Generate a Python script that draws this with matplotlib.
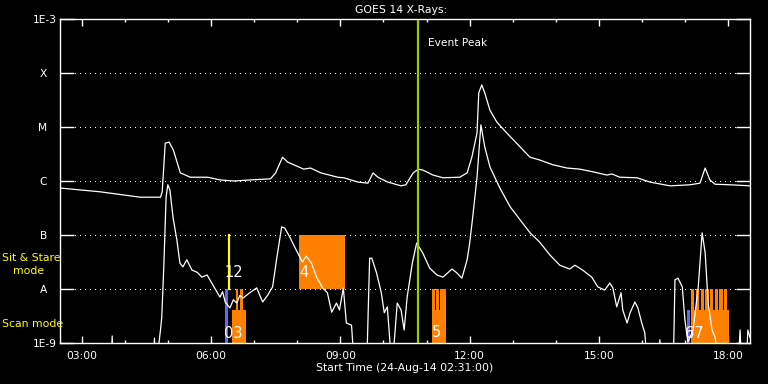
import numpy as np
import matplotlib.pyplot as plt
from matplotlib.ticker import FixedLocator, MultipleLocator, NullLocator
from matplotlib.transforms import ScaledTranslation

# GOES 14 long channel (1-8 A): hours since 00:00, log10 flux
long_t = [2.50, 3.43, 4.36, 4.83, 4.87, 4.94, 5.03, 5.13, 5.29, 5.41, 5.52, 5.92,
          6.22, 6.52, 6.92, 7.38, 7.50, 7.66, 7.78, 8.15, 8.31, 8.55, 8.94, 9.08,
          9.41, 9.64, 9.76, 9.87, 10.10, 10.41, 10.52, 10.69, 10.81, 10.92, 11.15,
          11.38, 11.77, 11.94, 12.05, 12.17, 12.21, 12.28, 12.35, 12.47, 12.63,
          12.86, 13.17, 13.40, 13.62, 13.93, 14.26, 14.55, 14.86, 15.18, 15.30,
          15.48, 15.88, 16.18, 16.65, 17.11, 17.34, 17.46, 17.57, 17.69, 18.04, 18.50]
long_lg = [-6.13, -6.20, -6.30, -6.30, -6.20, -5.30, -5.28, -5.43, -5.85, -5.89, -5.93, -5.93,
           -5.98, -6.00, -5.98, -5.96, -5.85, -5.56, -5.65, -5.78, -5.76, -5.85, -5.93, -5.94,
           -6.02, -6.04, -5.85, -5.93, -6.02, -6.09, -6.07, -5.85, -5.78, -5.80, -5.89,
           -5.94, -5.93, -5.85, -5.56, -5.11, -4.37, -4.22, -4.37, -4.69, -4.91,
           -5.11, -5.37, -5.56, -5.61, -5.70, -5.76, -5.78, -5.83, -5.89, -5.87,
           -5.93, -5.94, -6.02, -6.09, -6.07, -6.04, -5.76, -5.98, -6.06, -6.07, -6.09]

# short channel (0.5-4 A)
short_t = [2.50, 3.68, 3.71, 3.74, 4.66, 4.69, 4.72, 4.83, 4.86, 4.91, 4.96, 5.00, 5.05,
           5.12, 5.21, 5.28, 5.35, 5.44, 5.56, 5.68, 5.79, 5.91, 6.05, 6.21, 6.27, 6.33, 6.44,
           6.52, 6.60, 6.67, 6.74, 6.90, 7.06, 7.20, 7.32, 7.43, 7.53, 7.64, 7.71, 7.83, 7.94, 8.12,
           8.21, 8.33, 8.45, 8.59, 8.70, 8.80, 8.91, 8.98, 9.07, 9.14, 9.26, 9.33, 9.61,
           9.68, 9.73, 9.84, 9.95, 10.02, 10.09, 10.20, 10.32, 10.41, 10.48, 10.55, 10.67,
           10.77, 10.91, 11.07, 11.24, 11.38, 11.59, 11.70, 11.82, 11.94, 12.00, 12.07,
           12.17, 12.26, 12.35, 12.47, 12.70, 12.94, 13.17, 13.40, 13.62, 13.86, 14.09,
           14.32, 14.44, 14.62, 14.83, 14.97, 15.13, 15.25, 15.32, 15.41, 15.51, 15.55,
           15.65, 15.72, 15.83, 15.90, 15.99, 16.06, 16.13, 16.37, 16.41, 16.45, 16.72,
           16.76, 16.83, 16.93, 16.99, 17.06, 17.18, 17.30, 17.39, 17.46, 17.53, 17.62,
           17.69, 17.81, 18.22, 18.27, 18.31, 18.41, 18.45, 18.50]
short_lg = [-9.5, -9.5, -8.87, -9.5, -9.5, -8.91, -9.5, -8.76, -8.52, -7.52, -6.30, -6.07, -6.17,
            -6.67, -7.09, -7.52, -7.59, -7.46, -7.65, -7.69, -7.78, -7.74, -7.93, -8.15, -8.05, -8.24, -8.35,
            -8.20, -8.26, -8.12, -8.17, -8.07, -7.98, -8.24, -8.11, -7.96, -7.41, -6.85, -6.87, -7.04, -7.22, -7.50,
            -7.39, -7.52, -7.78, -7.98, -8.07, -8.43, -8.26, -8.39, -7.98, -8.63, -8.67, -9.5, -9.5,
            -7.43, -7.43, -7.70, -8.07, -8.44, -8.33, -9.5, -8.26, -8.39, -8.76, -8.15, -7.52,
            -7.15, -7.33, -7.61, -7.74, -7.78, -7.63, -7.70, -7.80, -7.46, -7.15, -6.67,
            -5.93, -4.96, -5.37, -5.74, -6.13, -6.48, -6.72, -6.96, -7.13, -7.37, -7.56,
            -7.63, -7.56, -7.65, -7.78, -7.96, -8.02, -7.89, -7.98, -8.33, -8.07, -8.39,
            -8.63, -8.44, -8.24, -8.35, -8.63, -8.81, -9.5, -9.5, -8.94, -9.5, -9.5,
            -7.83, -7.80, -7.96, -8.57, -8.98, -8.76, -7.96, -6.96, -7.33, -8.26, -8.76,
            -8.89, -9.5, -9.5, -8.76, -9.5, -9.5, -8.76, -8.90]

flux_ticks = [1e-9, 1e-8, 1e-7, 1e-6, 1e-5, 1e-4, 1e-3]
flux_labels = ['1E-9', 'A', 'B', 'C', 'M', 'X', '1E-3']
hour_ticks = [3, 6, 9, 12, 15, 18]
hour_labels = ['03:00', '06:00', '09:00', '12:00', '15:00', '18:00']

event_peak = 10.80

# scan mode rasters (reach level A) and shorter base blocks
scan_t0 = [6.574, 6.674, 11.126, 11.226, 11.318, 17.125, 17.247, 17.357, 17.464, 17.572, 17.681, 17.788, 17.897]
scan_t1 = [6.633, 6.750, 11.196, 11.295, 11.451, 17.208, 17.324, 17.433, 17.541, 17.649, 17.758, 17.866, 17.959]
base_t0 = [6.488, 11.126, 17.125]
base_t1 = [6.813, 11.451, 18.013]
base_top = 10 ** -8.39
# sit & stare block
stare_t0, stare_t1 = 8.042, 9.109
stare_line = 6.419
# other observations (blue)
blue_t0 = [6.333, 17.032]
blue_t1 = [6.407, 17.109]
blue_top = [1e-8, 10 ** -8.39]

# observation numbers
num_text = ['12', '03', '4', '5', '67']
num_t = [6.53, 6.52, 8.16, 11.24, 17.20]
num_lg = [-7.69, -8.82, -7.69, -8.80, -8.82]

orange = '#ff8000'

fig = plt.figure(figsize=(7.68, 3.84), dpi=100, facecolor='black')
ax = fig.add_axes([60 / 768, 41 / 384, 690 / 768, 324 / 384], facecolor='black')
ax.set_yscale('log')
ax.set_xlim(2.5, 18.5)
ax.set_ylim(1e-9, 1e-3)

# grid
for v in flux_ticks[1:-1]:
    ax.axhline(v, color='white', lw=0.72, dashes=(1, 5), antialiased=False, zorder=1)

# observation blocks
for a, b in zip(base_t0, base_t1):
    ax.fill_between([a, b], 1e-9, base_top, color=orange, lw=0, zorder=2)
for a, b in zip(scan_t0, scan_t1):
    ax.fill_between([a, b], 1e-9, 1e-8, color=orange, lw=0, zorder=2)
ax.fill_between([stare_t0, stare_t1], 1e-8, 1e-7, color=orange, lw=0, zorder=2)
for a, b, top in zip(blue_t0, blue_t1, blue_top):
    ax.fill_between([a, b], 1e-9, top, color='#6464ff', lw=0, zorder=2)
ax.plot([stare_line, stare_line], [1e-8, 1e-7], color='yellow', lw=1.6, zorder=2)

# light curves
ax.plot(long_t, 10 ** np.array(long_lg), color='white', lw=0.9, zorder=3)
ax.plot(short_t, 10 ** np.array(short_lg), color='white', lw=0.9, zorder=3)

ax.axvline(event_peak, color='#99cc00', lw=1.6, zorder=4)
ax.text(11.03, 10 ** -3.44, 'Event Peak', color='white', fontsize=7.7, va='center', ha='left')

for s, t, lg in zip(num_text, num_t, num_lg):
    ax.text(t, 10 ** lg, s, color='white', fontsize=10.5, ha='center', va='center', zorder=5)

# axes styling
for sp in ax.spines.values():
    sp.set_color('white')
    sp.set_linewidth(1.0)
    sp.set_zorder(6)

ax.yaxis.set_major_locator(FixedLocator(flux_ticks))
ax.yaxis.set_minor_locator(NullLocator())
ax.set_yticklabels(flux_labels)
ax.xaxis.set_major_locator(FixedLocator(hour_ticks))
ax.xaxis.set_minor_locator(MultipleLocator(1))
ax.set_xticklabels(hour_labels)

ax.tick_params(axis='both', which='both', direction='in', colors='white',
               top=True, right=True, labelsize=7.7, width=1.0)
ax.tick_params(axis='y', which='major', length=10, pad=2)
ax.tick_params(axis='x', which='major', length=5, pad=6)
ax.tick_params(axis='x', which='minor', length=2.2)

shift = ScaledTranslation(-0.10, 0, fig.dpi_scale_trans)
for lab in ax.get_yticklabels()[1:-1]:
    lab.set_transform(lab.get_transform() + shift)

fig.text(401 / 768, 1 - 10 / 384, 'GOES 14 X-Rays:', color='white', fontsize=7.8,
         ha='center', va='center')
fig.text(405 / 768, 1 - 368 / 384, 'Start Time (24-Aug-14 02:31:00)', color='white',
         fontsize=7.8, ha='center', va='center')
fig.text(2 / 768, 1 - 258 / 384, 'Sit & Stare', color='yellow', fontsize=7.8,
         ha='left', va='center')
fig.text(13 / 768, 1 - 271 / 384, 'mode', color='yellow', fontsize=7.8,
         ha='left', va='center')
fig.text(2 / 768, 1 - 324 / 384, 'Scan mode', color='yellow', fontsize=7.8,
         ha='left', va='center')

fig.savefig('out.png', dpi=100, facecolor='black')
